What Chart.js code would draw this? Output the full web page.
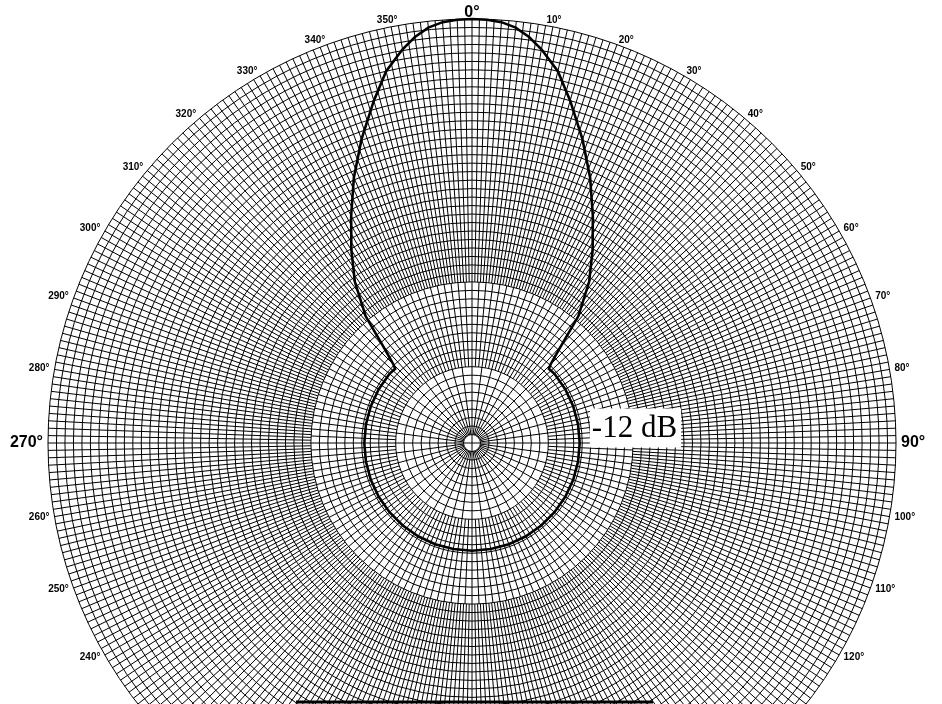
<!DOCTYPE html>
<html><head><meta charset="utf-8">
<script src="https://cdn.jsdelivr.net/npm/chart.js@4/dist/chart.umd.min.js"></script>
<style>
html,body{margin:0;padding:0;background:#fff;overflow:hidden;width:942px;height:704px}
#wrap{position:absolute;left:0;top:0;width:942px;height:900px}
</style>
</head><body>
<div id="wrap"><canvas id="c"></canvas></div>
<script>
// ---- data ----
const angleTickLabels = ['0°','10°','20°','30°','40°','50°','60°','70°','80°','90°','100°','110°','120°','130°','140°','150°','160°','170°','180°','190°','200°','210°','220°','230°','240°','250°','260°','270°','280°','290°','300°','310°','320°','330°','340°','350°'];
const majorAngleLabels = ['0°','90°','270°'];
// pattern readings: angle (deg, clockwise from top) and relative level (linear, 1 = 0 dB)
const patternAngles = [0, 2, 4, 6, 8, 10, 13, 16, 20, 24, 28, 32, 36, 40, 43, 45, 46, 50, 60, 70, 80, 90, 100, 110, 120, 130, 140, 150, 160, 170, 180, 190, 200, 210, 220, 230, 240, 250, 260, 270, 280, 290, 300, 310, 314, 315, 317, 320, 324, 328, 332, 336, 340, 344, 347, 350, 352, 354, 356, 358];
const patternValues = [1.0, 0.999, 0.995, 0.985, 0.967, 0.943, 0.9, 0.84, 0.762, 0.685, 0.607, 0.537, 0.47, 0.39, 0.30, 0.262, 0.252, 0.254, 0.254, 0.254, 0.254, 0.254, 0.254, 0.254, 0.254, 0.254, 0.254, 0.254, 0.254, 0.254, 0.254, 0.254, 0.254, 0.254, 0.254, 0.254, 0.254, 0.254, 0.254, 0.254, 0.254, 0.254, 0.254, 0.254, 0.252, 0.262, 0.30, 0.39, 0.47, 0.537, 0.607, 0.685, 0.762, 0.84, 0.9, 0.943, 0.967, 0.985, 0.995, 0.999];
const refLevelLabel = '-12 dB';
const refLevelValue = 0.25;

// ---- build chart inputs ----
const labels = [];
for (let a = 0; a < 360; a++) labels.push(a % 10 === 0 ? angleTickLabels[a / 10] : '');
const data = new Array(360).fill(null);
patternAngles.forEach((a, i) => { data[a] = patternValues[i]; });

// radial grid density: step (deg), level range
const gridTiers = [
  {step: 90, from: 0, to: 1},
  {step: 7.5, from: 0.02, to: 0.18},
  {step: 2.5, from: 0.18, to: 0.38},
  {step: 1, from: 0.38, to: 1}
];

const TARGET = {x: 472, y: 443, r: 424};

const polarDecor = {
  id: 'polarDecor',
  beforeDatasetsDraw(chart) {
    const s = chart.scales.r, ctx = chart.ctx;
    ctx.save();
    ctx.strokeStyle = '#000';
    ctx.lineWidth = 1;
    ctx.beginPath();
    for (let h = 0; h < 720; h++) {
      const a = h / 2;
      let from = Infinity, to = -Infinity;
      for (const t of gridTiers) {
        const q = a / t.step;
        if (Math.abs(q - Math.round(q)) < 1e-9) { from = Math.min(from, t.from); to = Math.max(to, t.to); }
      }
      if (from === Infinity) continue;
      const p0 = s.getPointPositionForValue(a, from);
      const p1 = s.getPointPositionForValue(a, to);
      ctx.moveTo(p0.x, p0.y); ctx.lineTo(p1.x, p1.y);
    }
    ctx.stroke();
    ctx.restore();
  },
  afterDraw(chart) {
    const s = chart.scales.r, ctx = chart.ctx;
    ctx.save();
    // angle labels
    ctx.fillStyle = '#000';
    for (let i = 0; i < angleTickLabels.length; i++) {
      const txt = angleTickLabels[i];
      const idx = i * 10;
      const big = majorAngleLabels.includes(txt);
      ctx.font = 'bold ' + (big ? 16 : 10) + 'px "Liberation Sans", Arial, sans-serif';
      const top = idx === 0;
      const p = s.getPointPosition(idx, s.drawingArea + (top ? 2 : 5));
      ctx.textAlign = (idx === 0 || idx === 180) ? 'center' : (idx < 180 ? 'left' : 'right');
      ctx.textBaseline = top ? 'alphabetic' : (idx === 180 ? 'top' : 'middle');
      ctx.fillText(txt, p.x, p.y);
    }
    // reference level label
    ctx.font = '31px "Liberation Serif", "Times New Roman", serif';
    const tw = ctx.measureText(refLevelLabel).width;
    const p = s.getPointPositionForValue(90, refLevelValue + 0.028);
    const bx = p.x, bw = tw + 6, bh = 39, by = s.yCenter - 15 - bh / 2;
    ctx.fillStyle = '#fff';
    ctx.fillRect(bx, by, bw, bh);
    ctx.fillStyle = '#000';
    ctx.textBaseline = 'middle';
    ctx.textAlign = 'left';
    ctx.fillText(refLevelLabel, bx + 2, by + bh / 2 + 1);
    // bottom rule
    ctx.strokeStyle = '#000';
    ctx.lineWidth = 3;
    ctx.beginPath();
    ctx.moveTo(s.xCenter - 176, s.yCenter + 259);
    ctx.lineTo(s.xCenter + 181, s.yCenter + 259);
    ctx.stroke();
    ctx.restore();
  }
};

const chart = new Chart(document.getElementById('c'), {
  type: 'radar',
  data: {
    labels,
    datasets: [{
      data,
      spanGaps: true,
      borderColor: '#000',
      borderWidth: 2.6,
      fill: false,
      pointRadius: 0,
      tension: 0
    }]
  },
  options: {
    responsive: true,
    maintainAspectRatio: false,
    animation: false,
    layout: {padding: {left: 48, right: 46, top: 19, bottom: 33}},
    plugins: {legend: {display: false}, tooltip: {enabled: false}},
    scales: {
      r: {
        min: 0, max: 1,
        ticks: {display: false, stepSize: 0.02},
        grid: {circular: true, color: '#000', lineWidth: 1},
        angleLines: {display: false},
        pointLabels: {display: false}
      }
    }
  },
  plugins: [polarDecor]
});

// place the polar area where the reference has it
for (let k = 0; k < 3; k++) {
  const s = chart.scales.r;
  const pad = chart.options.layout.padding;
  const S = 942 - pad.left - pad.right;
  const red = S / 2 - s.drawingArea;
  const sx = s.xCenter - (pad.left + S / 2);
  const sy = s.yCenter - (pad.top + S / 2);
  const Sn = 2 * (TARGET.r + red);
  pad.left = TARGET.x - sx - Sn / 2;
  pad.right = 942 - pad.left - Sn;
  pad.top = TARGET.y - sy - Sn / 2;
  pad.bottom = 900 - pad.top - Sn;
  chart.update('none');
}
</script>
</body></html>
